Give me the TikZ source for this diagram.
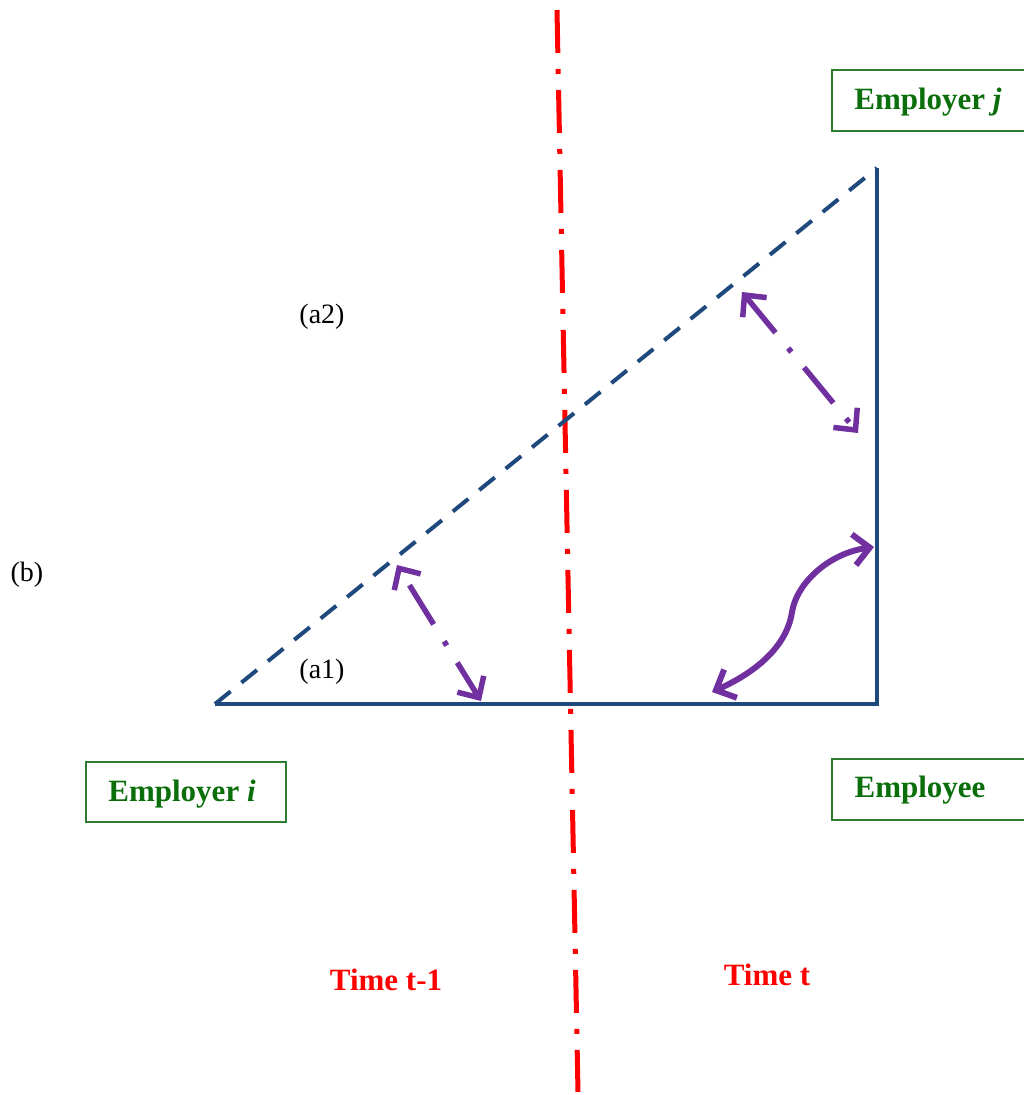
\documentclass[tikz,border=0pt]{standalone}
\usepackage{fontspec}
\setmainfont{Liberation Serif}
\usetikzlibrary{arrows.meta}
\definecolor{navy}{HTML}{1F497D}
\definecolor{purp}{HTML}{7030A0}
\definecolor{dgreen}{HTML}{0A6E0A}
\definecolor{bgreen}{HTML}{2E7D2E}
\tikzset{
  tri/.style={draw=navy, line width=4pt},
  tridash/.style={tri, dash pattern=on 20pt off 14pt},
  timeline/.style={draw=red, line width=5pt, dash pattern=on 43pt off 16pt on 5pt off 16pt},
  rel/.style={draw=purp, line width=5.5pt, dash pattern=on 46pt off 20pt on 5pt off 20pt,
    {Straight Barb[length=16pt,width=31pt]}-{Straight Barb[length=16pt,width=31pt]}},
  relsolid/.style={draw=purp, line width=6pt,
    {Straight Barb[length=16pt,width=31pt]}-{Straight Barb[length=16pt,width=31pt]}},
  partybox/.style={draw=bgreen, line width=1.6pt, minimum height=60pt, inner sep=0pt},
  partytext/.style={text=dgreen, font=\fontsize{31}{36}\selectfont\bfseries},
  lab/.style={font=\fontsize{28}{32}\selectfont, inner sep=0pt},
  timelab/.style={text=red, font=\fontsize{31}{36}\selectfont\bfseries, inner sep=0pt},
}
\begin{document}
\begin{tikzpicture}[x=1pt,y=-1pt]
\useasboundingbox (0,0) rectangle (1024,1095);
% triangle corners
\coordinate (A) at (215,704);
\coordinate (B) at (877,704);
\coordinate (C) at (877,168);
% time separator
\coordinate (T1) at (557,10);
\coordinate (T2) at (578,1092);
\draw[timeline] (T1) -- (T2);
% triangle
\draw[tridash] (A) -- (C);
\draw[tri, line cap=butt] (A) -- (B);
\draw[tri] ([yshift=-2pt]B) -- (C);
% party boxes
\draw[partybox] (832,70) rectangle (1030,131);
\node[partytext] (ej) at (928,102) {Employer \textit{j}};
\draw[partybox] (86,762) rectangle (286,822);
\node[partytext] (ei) at (182,794) {Employer \textit{i}};
\draw[partybox] (832,759) rectangle (1030,820);
\node[partytext] (ee) at (920,790) {Employee};
% relations
\coordinate (r1a) at (397,565);
\coordinate (r1b) at (481,701);
\draw[rel, dash phase=74pt] (r1a) -- (r1b);
\coordinate (r2a) at (742,292);
\coordinate (r2b) at (858,433);
\draw[rel] (r2a) -- (r2b);
\coordinate (cu1) at (712,692);
\coordinate (cm) at (792,612);
\coordinate (cu2) at (874,547);
\draw[relsolid] (cu1) .. controls (765,668) and (788,640) .. (cm) .. controls (797,582) and (830,553) .. (cu2);
% labels
\node[lab] (a2) at (322,317) {(a2)};
\node[lab] (b) at (27,575) {(b)};
\node[lab] (a1) at (322,672) {(a1)};
\node[timelab] (tm1) at (386,980) {Time t-1};
\node[timelab] (tt) at (767,975) {Time t};
\end{tikzpicture}
\end{document}
